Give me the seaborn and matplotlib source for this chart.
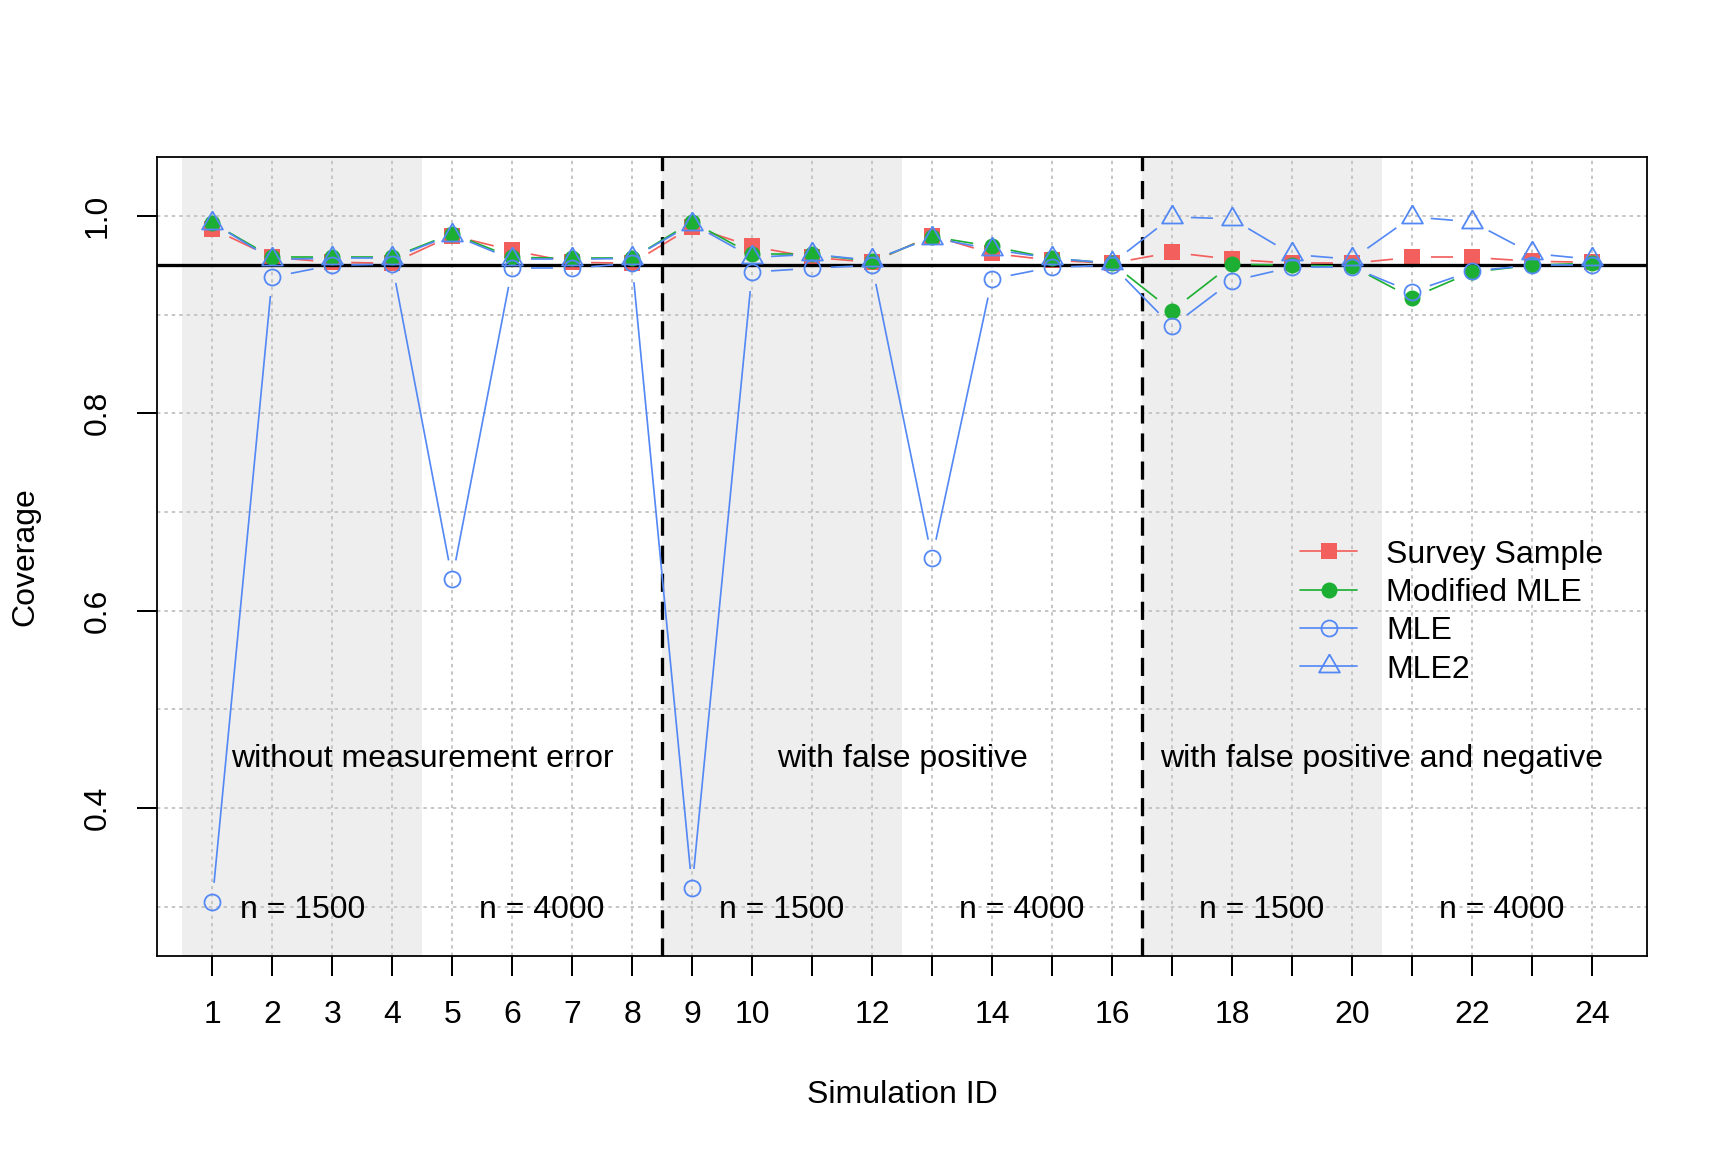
import numpy as np
import matplotlib
matplotlib.use("Agg")
import matplotlib.pyplot as plt
from matplotlib.lines import Line2D
from matplotlib.collections import LineCollection
import seaborn as sns

# --- data ---
sim_id = list(range(1, 25))
survey = [0.987, 0.958, 0.953, 0.952, 0.980, 0.965, 0.953, 0.952,
          0.989, 0.969, 0.958, 0.953, 0.980, 0.962, 0.955, 0.952,
          0.963, 0.956, 0.952, 0.952, 0.958, 0.958, 0.954, 0.953]
modified = [0.993, 0.958, 0.958, 0.958, 0.982, 0.958, 0.957, 0.957,
            0.994, 0.961, 0.961, 0.954, 0.979, 0.969, 0.957, 0.952,
            0.904, 0.951, 0.950, 0.949, 0.917, 0.943, 0.950, 0.952]
mle = [0.305, 0.938, 0.950, 0.951, 0.632, 0.947, 0.947, 0.952,
       0.319, 0.943, 0.947, 0.950, 0.653, 0.936, 0.948, 0.950,
       0.888, 0.934, 0.948, 0.948, 0.923, 0.944, 0.950, 0.950]
mle2 = [0.993, 0.956, 0.957, 0.957, 0.981, 0.956, 0.956, 0.957,
        0.992, 0.958, 0.961, 0.955, 0.978, 0.966, 0.957, 0.952,
        0.999, 0.997, 0.961, 0.956, 0.999, 0.994, 0.962, 0.956]
series_names = ["Survey Sample", "Modified MLE", "MLE", "MLE2"]
shade_blocks = [(0.5, 4.5), (8.5, 12.5), (16.5, 20.5)]
divider_x = [8.5, 16.5]
group_labels = ["without measurement error", "with false positive",
                "with false positive and negative"]
group_label_x = [4.5, 12.5, 20.5]
n_labels = ["n = 1500", "n = 4000"] * 3
n_label_x = [2.5, 6.5, 10.5, 14.5, 18.5, 22.5]
target = 0.95

red, green, blue = "#F35F5C", "#1DAF33", "#5388F5"

sns.set_style("white")
plt.rcParams["font.family"] = ["Liberation Sans", "DejaVu Sans"]
for key in ["text.color", "axes.labelcolor", "xtick.color", "ytick.color"]:
    plt.rcParams[key] = "black"
FS = 16

fig = plt.figure(figsize=(12, 8), dpi=144)
ax = fig.add_axes([0.0909, 0.1701, 0.8622, 0.6939])
ax.set_xlim(0.08, 24.92)
ax.set_ylim(0.250, 1.060)

# background blocks and grid
for lo, hi in shade_blocks:
    ax.axvspan(lo, hi, color="#EEEEEE", lw=0, zorder=0)
ax.set_axisbelow(True)
ax.set_xticks(sim_id)
ax.set_xticklabels([str(i) if (i <= 10 or i % 2 == 0) else "" for i in sim_id])
ax.set_yticks([0.4, 0.6, 0.8, 1.0])
ax.set_yticklabels(["0.4", "0.6", "0.8", "1.0"])
ax.set_yticks([0.3, 0.5, 0.7, 0.9], minor=True)
grid_kw = dict(color="#C6C6C6", lw=1.0, linestyle=(0, (1.7, 2.0)))
ax.grid(axis="x", which="major", **grid_kw)
ax.grid(axis="y", which="both", **grid_kw)
ax.tick_params(axis="y", which="minor", length=0, left=False)
ax.tick_params(axis="both", which="major", length=10, width=1.0,
               direction="out", labelsize=FS, pad=12, color="black",
               bottom=True, left=True)
ax.tick_params(axis="y", labelrotation=90)
for lab in ax.get_yticklabels():
    lab.set_va("center")

for sp in ax.spines.values():
    sp.set_color("black")
    sp.set_linewidth(0.9)


def gapped(ax, xs, ys, gap_px=19):
    # R type="b": segments stop short of each point
    pts = ax.transData.transform(np.column_stack([xs, ys]))
    inv = ax.transData.inverted()
    segs = []
    for p0, p1 in zip(pts[:-1], pts[1:]):
        d = p1 - p0
        L = np.hypot(*d)
        if L <= 2 * gap_px:
            continue
        u = d / L
        segs.append(inv.transform([p0 + u * gap_px, p1 - u * gap_px]))
    return segs


tri = [(0, 1), (0.866, -0.5), (-0.866, -0.5), (0, 1)]
styles = [
    dict(vals=survey, color=red, marker="s", ms=7.8, mfc=red, mew=0, z=3),
    dict(vals=modified, color=green, marker="o", ms=8.0, mfc=green, mew=0, z=4),
    dict(vals=mle, color=blue, marker="o", ms=8.0, mfc="none", mew=0.9, z=5),
    dict(vals=mle2, color=blue, marker=tri, ms=12.0, mfc="none", mew=0.9, z=6),
]

handles = []
for name, st in zip(series_names, styles):
    ax.add_collection(LineCollection(gapped(ax, sim_id, st["vals"]),
                                     colors=st["color"], linewidths=0.85,
                                     zorder=st["z"]))
    sns.lineplot(x=sim_id, y=st["vals"], ax=ax, linestyle="",
                 marker=st["marker"], markersize=st["ms"],
                 markerfacecolor=st["mfc"], markeredgecolor=st["color"],
                 markeredgewidth=st["mew"], color=st["color"], zorder=st["z"])
    handles.append(Line2D([], [], color=st["color"], lw=0.85,
                          marker=st["marker"], markersize=st["ms"],
                          markerfacecolor=st["mfc"], markeredgecolor=st["color"],
                          markeredgewidth=st["mew"], label=name))

# reference line and block dividers
ax.axhline(target, color="black", lw=1.65, zorder=3.5)
for xv in divider_x:
    ax.axvline(xv, color="black", lw=1.65, linestyle=(0, (5.5, 3)), zorder=3.5)

for lab, xv in zip(group_labels, group_label_x):
    ax.text(xv, 0.45, lab, ha="center", va="center", fontsize=FS, zorder=7)
for lab, xv in zip(n_labels, n_label_x):
    ax.text(xv, 0.30, lab, ha="center", va="center_baseline", fontsize=FS,
            zorder=7)

ax.legend(handles=handles, loc="upper left", bbox_to_anchor=(0.767, 0.521),
          frameon=False, borderpad=0, borderaxespad=0, handlelength=1.8,
          handletextpad=0.9, labelspacing=0.26, fontsize=FS)

ax.set_xlabel("Simulation ID", fontsize=FS)
ax.set_ylabel("Coverage", fontsize=FS)
ax.xaxis.set_label_coords(0.5, -0.155)
ax.yaxis.set_label_coords(-0.078, 0.5)

fig.savefig("out.png", dpi=144, facecolor="white")
